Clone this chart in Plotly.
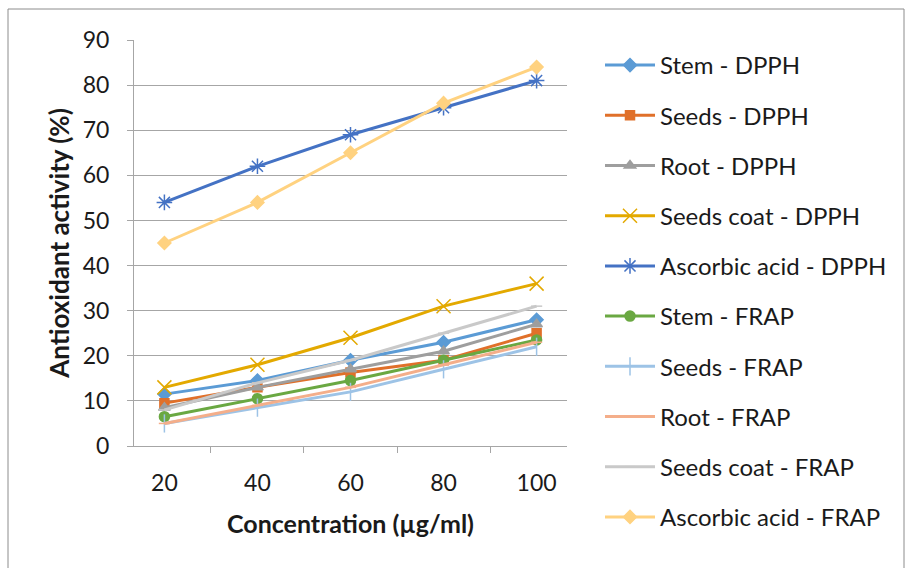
import plotly.graph_objects as go

concentration = ["20", "40", "60", "80", "100"]

stem_dpph = [11.5, 14.5, 19, 23, 28]
seeds_dpph = [9.5, 13, 16.3, 19, 25]
root_dpph = [8.5, 13, 17, 21, 27]
seeds_coat_dpph = [13, 18, 24, 31, 36]
ascorbic_dpph = [54, 62, 69, 75, 81]
stem_frap = [6.5, 10.5, 14.5, 19, 23.5]
seeds_frap = [5, 8.5, 12, 17, 22]
root_frap = [5, 9, 13, 18, 23]
seeds_coat_frap = [8, 14, 19, 25, 31]
ascorbic_frap = [45, 54, 65, 76, 84]

series = [
    ("Stem - DPPH", stem_dpph, "#5B9BD5", "diamond", 10),
    ("Seeds - DPPH", seeds_dpph, "#E0702A", "square", 9),
    ("Root - DPPH", root_dpph, "#9E9E9E", "triangle-up", 10),
    ("Seeds coat - DPPH", seeds_coat_dpph, "#E3A900", "x-thin-open", 14),
    ("Ascorbic acid - DPPH", ascorbic_dpph, "#4472C4", "asterisk-open", 13),
    ("Stem - FRAP", stem_frap, "#6AA842", "circle", 10),
    ("Seeds - FRAP", seeds_frap, "#9DC3E6", "line-ns-open", 13),
    ("Root - FRAP", root_frap, "#F4AE8A", "line-ew-open", 8),
    ("Seeds coat - FRAP", seeds_coat_frap, "#C9C9C9", "line-ew-open", 8),
    ("Ascorbic acid - FRAP", ascorbic_frap, "#FFD280", "diamond", 10),
]

FONT = "Lato, Calibri, Carlito, sans-serif"

fig = go.Figure()
for i, (name, vals, color, sym, size) in enumerate(series):
    fig.add_trace(go.Scatter(
        x=concentration, y=vals, name=name, mode="lines+markers",
        legendgroup=f"g{i}",
        line=dict(color=color, width=3),
        marker=dict(symbol=sym, size=size, color=color,
                    line=dict(color=color, width=1.5)),
    ))

fig.update_layout(
    width=905, height=568,
    margin=dict(l=134, r=338, t=40, b=122),
    paper_bgcolor="white", plot_bgcolor="white",
    font=dict(family=FONT, size=23, color="#1a1a1a"),
    showlegend=True,
    legend=dict(
        xref="container", yref="container",
        x=600 / 905, y=1 - 43 / 568, xanchor="left", yanchor="top",
        font=dict(family=FONT, size=24, color="#1a1a1a"),
        tracegroupgap=16, itemwidth=50,
        maxheight=1.0,
        bgcolor="rgba(0,0,0,0)",
    ),
    xaxis=dict(
        type="category",
        title=dict(text="<b>Concentration (µg/ml)</b>", font=dict(size=25), standoff=20),
        tickson="boundaries", ticks="outside", ticklen=6, tickcolor="#A6A6A6",
        showgrid=False, showline=True, linecolor="#A6A6A6", linewidth=1,
        tickfont=dict(size=23), ticklabelstandoff=16,
    ),
    yaxis=dict(
        range=[0, 90], dtick=10,
        title=dict(text="<b>Antioxidant activity (%)</b>", font=dict(size=26), standoff=5),
        ticks="outside", ticklen=6, tickcolor="#A6A6A6",
        showgrid=True, gridcolor="#A6A6A6", gridwidth=1,
        showline=True, linecolor="#A6A6A6", linewidth=1,
        zeroline=False, tickfont=dict(size=23), ticklabelstandoff=13,
    ),
    shapes=[dict(
        type="rect", xref="paper", yref="paper",
        x0=(8 - 134) / 433, x1=(904 - 134) / 433,
        y0=(446 - 580) / 406, y1=(446 - 9) / 406,
        line=dict(color="#8C8C8C", width=1), fillcolor="rgba(0,0,0,0)", layer="below",
    )],
)

fig.write_html("out.html")
